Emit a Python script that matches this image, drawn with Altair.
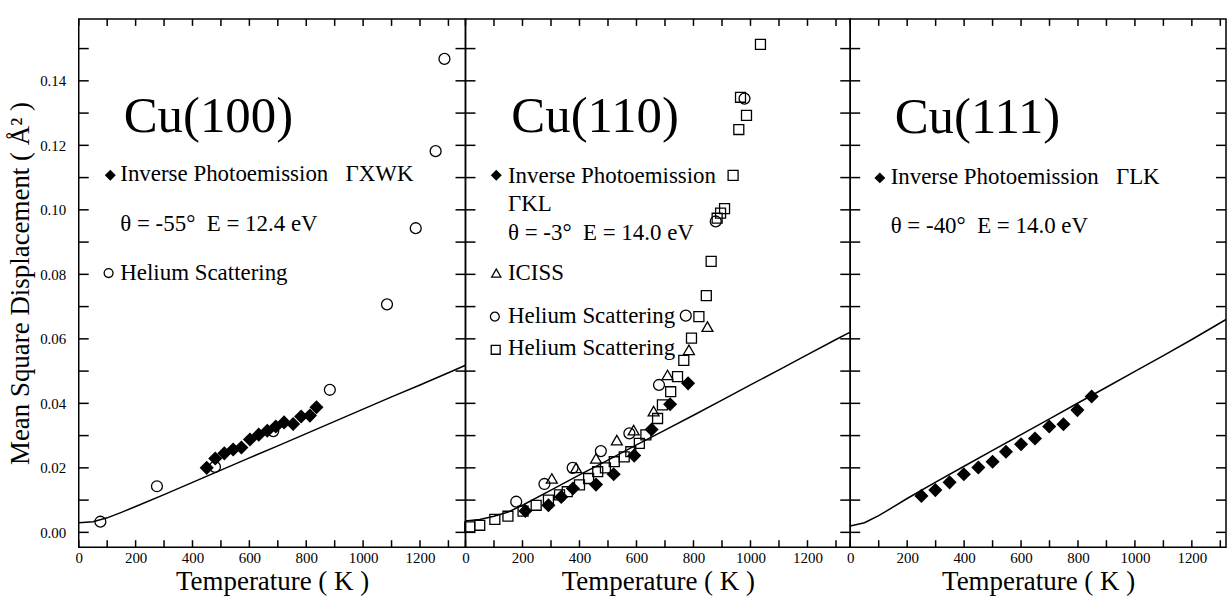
import altair as alt
import pandas as pd

FONT = "Liberation Serif"

# ---------------- data ----------------
x_ticks = [0, 100, 200, 300, 400, 500, 600, 700, 800, 900, 1000, 1100, 1200, 1300]
y_ticks = [0.00, 0.01, 0.02, 0.03, 0.04, 0.05, 0.06, 0.07, 0.08, 0.09, 0.10, 0.11, 0.12, 0.13, 0.14, 0.15]

# Cu(100)
p1_ipe_T = [450, 480, 512, 543, 572, 602, 633, 663, 693, 722, 754, 782, 813, 836]
p1_ipe_msd = [0.0200, 0.0229, 0.0245, 0.0257, 0.0263, 0.0288, 0.0303, 0.0315, 0.0328, 0.0341, 0.0336, 0.0359, 0.0362, 0.0388]
p1_he_T = [76, 275, 479, 684, 883, 1084, 1185, 1255, 1286]
p1_he_msd = [0.0033, 0.0143, 0.0203, 0.0314, 0.0442, 0.0707, 0.0943, 0.1182, 0.1468]
p1_th_T = [0, 50, 100, 150, 200, 300, 400, 500, 600, 700, 800, 900, 1000, 1100, 1200, 1300, 1360]
p1_th_msd = [0.0030, 0.0033, 0.0045, 0.0062, 0.0080, 0.0117, 0.0155, 0.0193, 0.0231, 0.0268, 0.0306, 0.0344, 0.0382, 0.0420, 0.0457, 0.0495, 0.0518]

# Cu(110)
p2_ipe_T = [210, 291, 336, 377, 458, 520, 592, 653, 718, 781]
p2_ipe_msd = [0.0066, 0.0084, 0.0110, 0.0136, 0.0148, 0.0180, 0.0238, 0.0319, 0.0397, 0.0462]
p2_iciss_T = [303, 388, 458, 531, 590, 660, 709, 784, 849]
p2_iciss_msd = [0.0167, 0.0200, 0.0229, 0.0286, 0.0317, 0.0376, 0.0488, 0.0566, 0.0638]
p2_he1_T = [178, 277, 376, 475, 575, 679, 773, 878, 979]
p2_he1_msd = [0.0095, 0.0150, 0.0200, 0.0252, 0.0307, 0.0457, 0.0672, 0.0964, 0.1345]
p2_he2_T = [15, 50, 103, 149, 202, 248, 291, 330, 357, 400, 432, 464, 491, 522, 557, 580, 610, 633,
            674, 691, 720, 744, 766, 793, 819, 845, 862, 883, 895, 909, 939, 959, 986, 965, 1035]
p2_he2_msd = [0.0017, 0.0022, 0.0040, 0.0050, 0.0066, 0.0084, 0.0100, 0.0116, 0.0126, 0.0147, 0.0167,
              0.0188, 0.0200, 0.0219, 0.0234, 0.0250, 0.0276, 0.0302, 0.0353, 0.0395, 0.0436, 0.0483,
              0.0533, 0.0602, 0.0669, 0.0734, 0.0840, 0.0974, 0.0990, 0.1004, 0.1107, 0.1249, 0.1293,
              0.1349, 0.1513]
p2_th_T = [0, 50, 100, 150, 200, 300, 400, 500, 600, 700, 800, 900, 1000, 1100, 1200, 1300, 1350]
p2_th_msd = [0.0035, 0.0040, 0.0050, 0.0063, 0.0084, 0.0131, 0.0178, 0.0224, 0.0271, 0.0317, 0.0363,
             0.0410, 0.0457, 0.0504, 0.0551, 0.0598, 0.0621]

# Cu(111)
p3_ipe_T = [250, 299, 349, 399, 450, 500, 547, 600, 649, 699, 749, 798, 848]
p3_ipe_msd = [0.0113, 0.0131, 0.0155, 0.0180, 0.0201, 0.0219, 0.0250, 0.0273, 0.0291, 0.0328, 0.0335, 0.0379, 0.0421]
p3_th_T = [0, 50, 100, 150, 200, 300, 400, 500, 600, 700, 800, 900, 1000, 1100, 1200, 1320]
p3_th_msd = [0.0020, 0.0030, 0.0052, 0.0078, 0.0105, 0.0156, 0.0205, 0.0254, 0.0303, 0.0352, 0.0401,
             0.0450, 0.0499, 0.0548, 0.0598, 0.0660]

# annotations
p1_title = ["Cu(100)"]
p1_notes = ["Inverse Photoemission\u00a0\u00a0\u00a0\u0393XWK", "\u03b8 = -55\u00b0\u00a0\u00a0E = 12.4 eV", "Helium Scattering"]
p2_title = ["Cu(110)"]
p2_notes = ["Inverse Photoemission", "\u0393KL", "\u03b8 = -3\u00b0\u00a0\u00a0E = 14.0 eV", "ICISS",
            "Helium Scattering", "Helium Scattering"]
p3_title = ["Cu(111)"]
p3_notes = ["Inverse Photoemission\u00a0\u00a0\u00a0\u0393LK", "\u03b8 = -40\u00b0\u00a0\u00a0E = 14.0 eV"]

# annotation anchor points (in data units)
p1_title_at = ([158], [0.1242])
p1_notes_at = ([146, 146, 146], [0.1089, 0.0933, 0.0783])
p1_sym_at = {"diamond": ([111], [0.1107]), "circle": ([105], [0.0804])}
p2_title_at = ([161], [0.1242])
p2_notes_at = ([149] * 6, [0.1083, 0.0995, 0.0907, 0.0783, 0.0648, 0.0550])
p2_sym_at = {"diamond": ([108], [0.1107]), "triangle-up": ([108], [0.0804]),
             "circle": ([103], [0.0669]), "square": ([106], [0.0566])}
p3_title_at = ([156], [0.1239])
p3_notes_at = ([142, 142], [0.1080, 0.0928])
p3_sym_at = {"diamond": ([104], [0.1099])}

Y_DOMAIN = [-0.0046, 0.1592]
H = 530
XT = 7   # x tick length, px
YT = 10  # y tick length, px

STYLE = {
    "diamond": dict(shape="diamond", filled=True, size=200),
    "circle": dict(shape="circle", filled=False, size=120, strokeWidth=1.3),
    "square": dict(shape="square", filled=False, size=100, strokeWidth=1.3),
    "triangle-up": dict(shape="triangle-up", filled=False, size=120, strokeWidth=1.3),
}
LEG_SIZE = {"diamond": 120, "circle": 80, "square": 80, "triangle-up": 85}


def panel(xmax, width, theory, series, title_text, title_at, notes, notes_at, sym_at, first):
    xs = alt.Scale(domain=[0, xmax], nice=False, zero=False)
    ys = alt.Scale(domain=Y_DOMAIN, nice=False, zero=False)

    ax_bottom = alt.Axis(orient="bottom", values=x_ticks, format="d",
                         labelExpr="datum.value % 200 == 0 ? datum.label : ''",
                         ticks=False, domain=False, labelPadding=3,
                         title="Temperature ( K )", titlePadding=3,
                         labelFlush=False, labelOverlap=False, grid=False)
    if first:
        ax_left = alt.Axis(orient="left", values=y_ticks, format=".2f",
                           labelExpr="round(datum.value*100) % 2 == 0 ? datum.label : ''",
                           ticks=False, domain=False, labelPadding=13,
                           title="Mean Square Displacement ( \u00c5\u00b2 )", titlePadding=5,
                           labelFlush=False, labelOverlap=False, grid=False)
    else:
        ax_left = None

    def X():
        return alt.X("T:Q", scale=xs, axis=ax_bottom)

    def Y():
        return alt.Y("msd:Q", scale=ys, axis=ax_left)

    th = pd.DataFrame({"T": theory[0], "msd": theory[1]})
    layers = [alt.Chart(th).mark_line(color="black", strokeWidth=1.5).encode(x=X(), y=Y())]
    for shape, (T, m) in series:
        df = pd.DataFrame({"T": T, "msd": m})
        st = STYLE[shape]
        layers.append(alt.Chart(df).mark_point(color="black", opacity=1, **st).encode(x=X(), y=Y()))

    tdf = pd.DataFrame({"T": title_at[0], "msd": title_at[1], "label": title_text})
    layers.append(alt.Chart(tdf).mark_text(align="left", baseline="alphabetic", font=FONT,
                                           fontSize=51, color="black")
                  .encode(x=X(), y=Y(), text="label:N"))
    ndf = pd.DataFrame({"T": notes_at[0], "msd": notes_at[1], "label": notes})
    layers.append(alt.Chart(ndf).mark_text(align="left", baseline="alphabetic", font=FONT,
                                           fontSize=23, color="black")
                  .encode(x=X(), y=Y(), text="label:N"))
    for shape, (T, m) in sym_at.items():
        df = pd.DataFrame({"T": T, "msd": m})
        st = dict(STYLE[shape])
        st["size"] = LEG_SIZE[shape]
        layers.append(alt.Chart(df).mark_point(color="black", opacity=1, **st).encode(x=X(), y=Y()))

    # inward tick marks on all four sides, drawn as short path symbols at each tick value
    left_t = pd.DataFrame({"T": 0.0, "msd": y_ticks})
    right_t = pd.DataFrame({"T": float(xmax), "msd": y_ticks})
    bot_t = pd.DataFrame({"T": x_ticks, "msd": Y_DOMAIN[0]})
    top_t = pd.DataFrame({"T": x_ticks, "msd": Y_DOMAIN[1]})
    tick = dict(color="black", opacity=1, filled=False, strokeWidth=1.5)
    layers += [
        alt.Chart(left_t).mark_point(shape="M0,0L2,0", size=YT * YT, **tick).encode(x=X(), y=Y()),
        alt.Chart(right_t).mark_point(shape="M0,0L-2,0", size=YT * YT, **tick).encode(x=X(), y=Y()),
        alt.Chart(bot_t).mark_point(shape="M0,0L0,-2", size=XT * XT, **tick).encode(x=X(), y=Y()),
        alt.Chart(top_t).mark_point(shape="M0,0L0,2", size=XT * XT, **tick).encode(x=X(), y=Y()),
    ]

    return alt.layer(*layers).properties(width=width, height=H)


p1 = panel(1360, 388, (p1_th_T, p1_th_msd),
           [("circle", (p1_he_T, p1_he_msd)), ("diamond", (p1_ipe_T, p1_ipe_msd))],
           p1_title, p1_title_at, p1_notes, p1_notes_at, p1_sym_at, True)
p2 = panel(1350, 386, (p2_th_T, p2_th_msd),
           [("square", (p2_he2_T, p2_he2_msd)), ("circle", (p2_he1_T, p2_he1_msd)),
            ("triangle-up", (p2_iciss_T, p2_iciss_msd)), ("diamond", (p2_ipe_T, p2_ipe_msd))],
           p2_title, p2_title_at, p2_notes, p2_notes_at, p2_sym_at, False)
p3 = panel(1320, 377, (p3_th_T, p3_th_msd),
           [("diamond", (p3_ipe_T, p3_ipe_msd))],
           p3_title, p3_title_at, p3_notes, p3_notes_at, p3_sym_at, False)

chart = alt.hconcat(p1, p2, p3, spacing=0, bounds="flush").properties(
    padding={"left": 6, "top": 14, "right": 0, "bottom": 0},
    background="white",
).configure_view(stroke="black", strokeWidth=1.5).configure_axis(
    labelFont=FONT, titleFont=FONT, labelFontSize=15, titleFontSize=27,
    titleFontWeight="normal", labelColor="black", titleColor="black", grid=False,
)

chart.save("out.html", embed_options={"renderer": "svg", "actions": False})
